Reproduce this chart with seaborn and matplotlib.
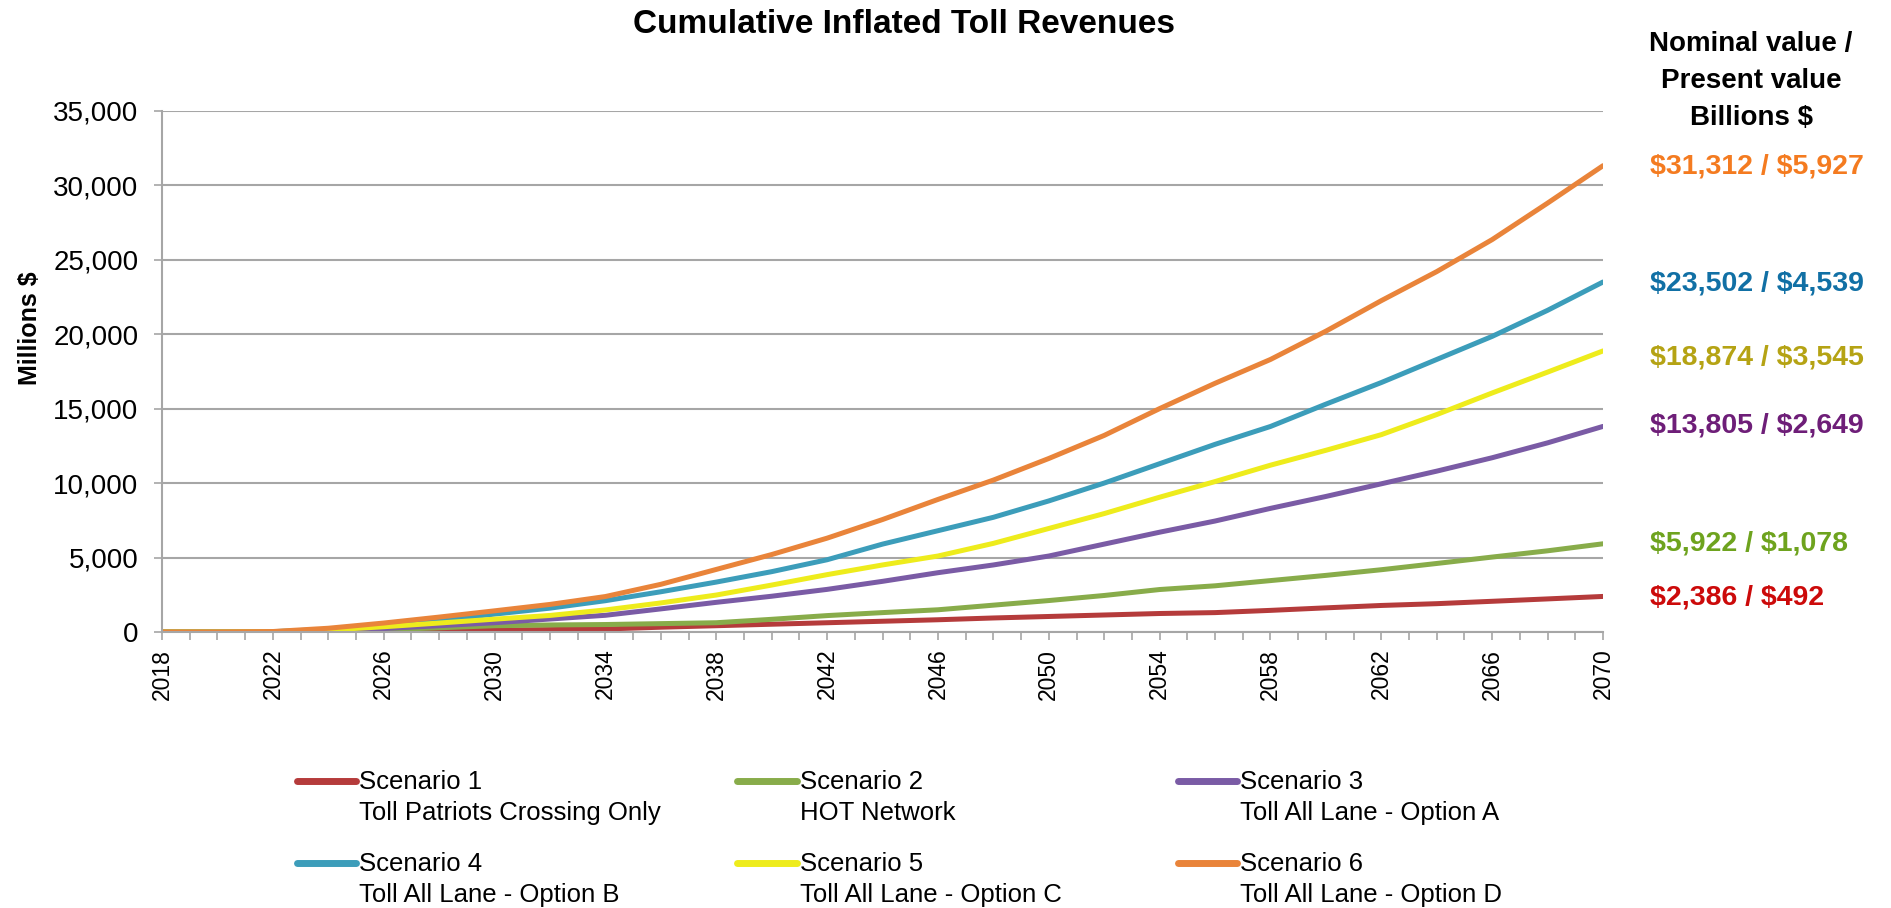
import numpy as np
import pandas as pd
import matplotlib.pyplot as plt
import seaborn as sns
from matplotlib.lines import Line2D
from matplotlib.legend_handler import HandlerLine2D
from matplotlib.ticker import MultipleLocator, FixedLocator, FuncFormatter

# values (millions $, cumulative), every 2 years
years = list(range(2018, 2071, 2))
s1 = [0, 0, 0, 20, 50, 90, 120, 160, 200, 320, 420, 520, 620, 720, 820, 940, 1040, 1140,
      1240, 1300, 1450, 1620, 1780, 1900, 2060, 2220, 2386]
s2 = [0, 0, 10, 60, 150, 280, 420, 470, 500, 560, 620, 850, 1100, 1300, 1490, 1800, 2110, 2450,
      2850, 3100, 3450, 3800, 4180, 4600, 5030, 5450, 5922]
s3 = [0, 0, 10, 80, 230, 420, 620, 870, 1120, 1550, 1990, 2400, 2860, 3400, 3980, 4500, 5100, 5900,
      6700, 7450, 8300, 9100, 9950, 10800, 11700, 12700, 13805]
s4 = [0, 0, 20, 180, 420, 780, 1200, 1600, 2100, 2700, 3350, 4050, 4850, 5900, 6800, 7700, 8800, 10000,
      11300, 12600, 13800, 15300, 16750, 18300, 19850, 21600, 23502]
s5 = [0, 0, 15, 130, 350, 600, 860, 1110, 1480, 1950, 2480, 3150, 3850, 4500, 5100, 5950, 6950, 7950,
      9050, 10100, 11200, 12200, 13250, 14600, 16050, 17450, 18874]
s6 = [0, 0, 30, 250, 600, 1000, 1420, 1850, 2380, 3200, 4200, 5200, 6300, 7550, 8900, 10200, 11650, 13200,
      15000, 16700, 18300, 20200, 22250, 24200, 26350, 28800, 31312]

scenarios = ["Scenario 1", "Scenario 2", "Scenario 3", "Scenario 4", "Scenario 5", "Scenario 6"]
subtitles = ["Toll Patriots Crossing Only", "HOT Network", "Toll All Lane - Option A",
             "Toll All Lane - Option B", "Toll All Lane - Option C", "Toll All Lane - Option D"]
line_colors = ["#B53B3B", "#88AC4A", "#7A5BA5", "#3C9DBA", "#EEEC1C", "#E9843A"]

end_labels = [r"\$2,386 / \$492", r"\$5,922 / \$1,078", r"\$13,805 / \$2,649",
              r"\$23,502 / \$4,539", r"\$18,874 / \$3,545", r"\$31,312 / \$5,927"]
end_colors = ["#CC0A0A", "#6EA31E", "#6E1E78", "#1170A5", "#B5A314", "#F47B20"]

df = pd.concat([pd.DataFrame({"year": years, "value": v, "scenario": s})
                for s, v in zip(scenarios, [s1, s2, s3, s4, s5, s6])])

sns.set_style("white")
plt.rcParams['font.family'] = ['Liberation Sans', 'DejaVu Sans']
plt.rcParams['text.color'] = 'black'
plt.rcParams['xtick.labelcolor'] = 'black'
plt.rcParams['ytick.labelcolor'] = 'black'


class FirstLineHandler(HandlerLine2D):
    # put the legend line next to the first line of a two-line label
    def create_artists(self, legend, orig_handle, xdescent, ydescent, width, height, fontsize, trans):
        arts = super().create_artists(legend, orig_handle, xdescent, ydescent,
                                      width, height, fontsize, trans)
        for a in arts:
            a.set_ydata(np.asarray(a.get_ydata()) + 0.68 * fontsize)
        return arts


fig = plt.figure(figsize=(18.91, 9.08), dpi=100)
ax = fig.add_axes([0.0857, 0.304, 0.762, 0.574])

sns.lineplot(data=df, x="year", y="value", hue="scenario", palette=line_colors,
             linewidth=3.6, legend=False, ax=ax)

ax.set_xlim(2018, 2070)
ax.set_ylim(0, 35000)
ax.xaxis.set_major_locator(FixedLocator(list(range(2018, 2071, 4))))
ax.xaxis.set_minor_locator(MultipleLocator(1))
ax.yaxis.set_major_locator(MultipleLocator(5000))
ax.yaxis.set_major_formatter(FuncFormatter(lambda v, p: f"{int(v):,}"))
ax.grid(axis="y", color="#A6A6A6", linewidth=1.5)
ax.set_axisbelow(True)
for side in ["top", "right"]:
    ax.spines[side].set_visible(False)
for side in ["left", "bottom"]:
    ax.spines[side].set_color("#A6A6A6")
    ax.spines[side].set_linewidth(1.5)
ax.tick_params(axis="x", which="both", direction="out", length=6, width=1.2, color="#A6A6A6",
               bottom=True, labelsize=16.5, labelrotation=90, pad=6)
ax.tick_params(axis="y", which="major", direction="out", length=6, width=1.2, color="#A6A6A6",
               left=True, labelsize=20, pad=11)
ax.set_xlabel("")
ax.set_ylabel("")

fig.text(0.478, 0.973, "Cumulative Inflated Toll Revenues", ha="center", va="center",
         fontsize=24, fontweight="bold")
fig.text(0.016, 0.639, r"Millions \$", rotation=90, ha="center", va="center",
         fontsize=18, fontweight="bold")

for i, line in enumerate(["Nominal value /", "Present value", r"Billions \$"]):
    fig.text(0.926, 0.951 - i * 0.0405, line, ha="center", va="center",
             fontsize=20, fontweight="bold")

label_y = [0.342, 0.401, 0.531, 0.688, 0.606, 0.817]
for txt, col, yy in zip(end_labels, end_colors, label_y):
    fig.text(0.8726, yy, txt, ha="left", va="center", fontsize=20.5,
             fontweight="bold", color=col)

# legend: three columns of two entries each
col_x = [0.157, 0.390, 0.623]
for c in range(3):
    idx = [c, c + 3]
    handles = [Line2D([0], [0], color=line_colors[i], linewidth=5) for i in idx]
    labels = [f"{scenarios[i]}\n{subtitles[i]}" for i in idx]
    leg = fig.legend(handles, labels, loc="upper left", bbox_to_anchor=(col_x[c], 0.152),
                     frameon=False, fontsize=18.5, handlelength=2.3, handletextpad=0.12,
                     labelspacing=1.05, borderaxespad=0, borderpad=0,
                     handler_map={Line2D: FirstLineHandler()})
    for t in leg.get_texts():
        t.set_linespacing(1.38)

fig.savefig("out.png", dpi=100)
